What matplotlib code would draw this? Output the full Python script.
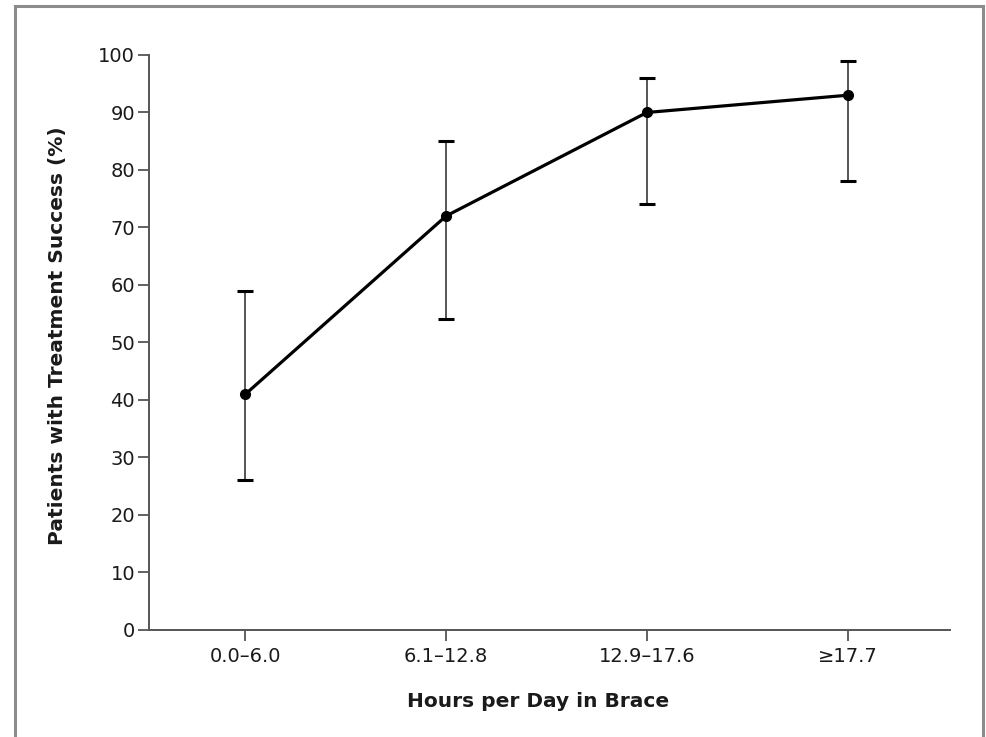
import numpy as np
import matplotlib
matplotlib.use('Agg')
import matplotlib.pyplot as plt
from matplotlib.patches import Rectangle

categories = ['0.0\u20136.0', '6.1\u201312.8', '12.9\u201317.6', '\u226517.7']
success = [41, 72, 90, 93]
lower = [26, 54, 74, 78]
upper = [59, 85, 96, 99]

x = np.arange(len(categories))
yerr = [np.array(success) - np.array(lower), np.array(upper) - np.array(success)]

plt.rcParams['font.family'] = ['DejaVu Sans']

fig = plt.figure(figsize=(9.86, 7.37), dpi=100)
ax = fig.add_axes([0.1511, 0.1452, 0.8124, 0.7802])

# outer frame
fig.patches.append(Rectangle((15 / 986, -0.05), 968 / 986, 1 - 6 / 737 + 0.05,
                             transform=fig.transFigure, fill=False,
                             edgecolor='#8c8c8c', linewidth=2.2, clip_on=False))

eb = ax.errorbar(x, success, yerr=yerr, fmt='none', ecolor='#555555',
                 elinewidth=1.4, capsize=5.5, capthick=2.2, zorder=2)
for cap in eb[1]:
    cap.set_markeredgecolor('black')
ax.plot(x, success, color='black', linewidth=2.3, marker='o', markersize=7,
        zorder=3, clip_on=False)

ax.set_xlim(-0.48, 3.51)
ax.set_ylim(0, 100)
ax.set_yticks(np.arange(0, 101, 10))
ax.set_xticks(x)
ax.set_xticklabels(categories)

for s in ['top', 'right']:
    ax.spines[s].set_visible(False)
for s in ['left', 'bottom']:
    ax.spines[s].set_color('#555555')
    ax.spines[s].set_linewidth(1.4)

ax.tick_params(axis='both', colors='#555555', width=1.3, length=8,
               labelcolor='#1a1a1a', labelsize=14, pad=2)
ax.tick_params(axis='x', pad=4)

ax.set_xlabel('Hours per Day in Brace', fontsize=14.5, fontweight='bold',
              color='#1a1a1a')
ax.set_ylabel('Patients with Treatment Success (%)', fontsize=14.5,
              fontweight='bold', color='#1a1a1a')
ax.xaxis.set_label_coords(0.4856, -0.108)
ax.yaxis.set_label_coords(-0.102, 0.511)

fig.savefig('out.png', dpi=100)
